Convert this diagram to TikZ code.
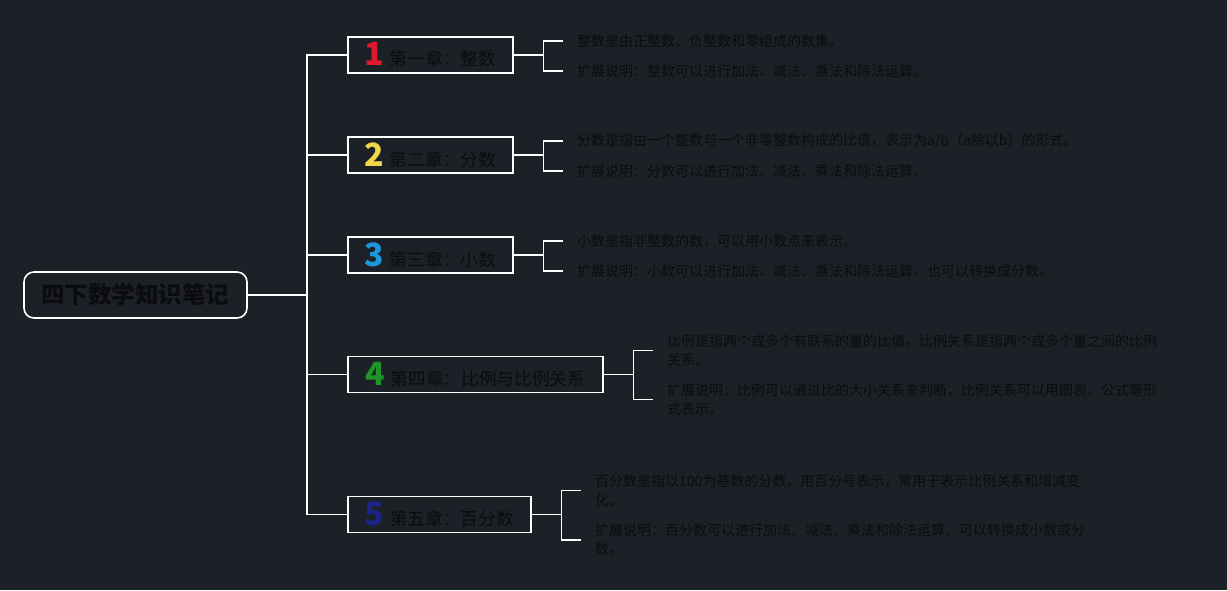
\documentclass[tikz,border=0pt]{standalone}
\usepackage{fontspec}
\setmainfont{Noto Sans CJK SC}
\usepackage{tikz}
\usetikzlibrary{positioning}
\definecolor{bgdark}{RGB}{28,33,40}
\definecolor{inkdark}{RGB}{12,12,14}
\definecolor{numred}{RGB}{226,24,44}
\definecolor{numyellow}{RGB}{240,214,72}
\definecolor{numblue}{RGB}{28,150,220}
\definecolor{numgreen}{RGB}{30,150,40}
\definecolor{numnavy}{RGB}{28,36,140}
\newcommand\chapno[2]{{\color{#1}\fontsize{32}{32}\selectfont\bfseries #2}\hspace{6pt}}

\begin{document}
\begin{tikzpicture}[x=1pt,y=-1pt,line cap=rect,
  link/.style={draw=white,line width=1.6pt},
  rootbox/.style={draw=white,line width=1.6pt,rounded corners=10pt,minimum width=223pt,minimum height=46pt,text=inkdark,font=\fontsize{23.5}{28}\selectfont\bfseries},
  chapbox/.style={draw=white,line width=1.6pt,anchor=west,minimum height=36pt,inner xsep=0pt,inner ysep=1pt,text=inkdark,font=\fontsize{17.7}{21}\selectfont},
  leaf/.style={anchor=west,align=left,inner xsep=0pt,outer xsep=15pt,inner ysep=0pt,text=inkdark,font=\fontsize{14}{19}\selectfont}]
\fill[bgdark] (0,0) rectangle (1227,590);
\node[rootbox] (root) at (135.5,295) {四下数学知识笔记};
\coordinate (tr) at (307,295);
\node[chapbox,minimum width=165pt] (c1) at (347,55) {\chapno{numred}{1}第一章：整数};
\node[chapbox,minimum width=165pt] (c2) at (347,155) {\chapno{numyellow}{2}第二章：分数};
\node[chapbox,minimum width=165pt] (c3) at (347,255) {\chapno{numblue}{3}第三章：小数};
\node[chapbox,minimum width=255pt] (c4) at (347,374.5) {\chapno{numgreen}{4}第四章：比例与比例关系};
\node[chapbox,minimum width=183pt] (c5) at (347,514.5) {\chapno{numnavy}{5}第五章：百分数};
\node[leaf] (a1) at (562,41) {整数是由正整数、负整数和零组成的数集。};
\node[leaf] (b1) at (562,71) {扩展说明：整数可以进行加法、减法、乘法和除法运算。};
\node[leaf] (a2) at (562,141) {分数是指由一个整数与一个非零整数构成的比值，表示为a/b（a除以b）的形式。};
\node[leaf] (b2) at (562,171) {扩展说明：分数可以进行加法、减法、乘法和除法运算。};
\node[leaf] (a3) at (562,241) {小数是指非整数的数，可以用小数点来表示。};
\node[leaf] (b3) at (562,271) {扩展说明：小数可以进行加法、减法、乘法和除法运算，也可以转换成分数。};
\node[leaf] (a4) at (652,350.5) {比例是指两个或多个有联系的量的比值。比例关系是指两个或多个量之间的比例\\关系。};
\node[leaf] (b4) at (652,399.5) {扩展说明：比例可以通过比的大小关系来判断，比例关系可以用图表、公式等形\\式表示。};
\node[leaf] (a5) at (580,490.5) {百分数是指以100为基数的分数，用百分号表示，常用于表示比例关系和增减变\\化。};
\node[leaf] (b5) at (580,540) {扩展说明：百分数可以进行加法、减法、乘法和除法运算，可以转换成小数或分\\数。};
\draw[link] (root.east) -- (tr);
\draw[link] (tr |- c1.west) -- (tr |- c5.west);
\foreach \i in {1,...,5}{
  \draw[link] (tr |- c\i.west) -- (c\i.west);
  \draw[link] (c\i.east) -- ++(30,0) coordinate (k\i);
  \draw[link] (a\i.west) -| (k\i) |- (b\i.west);
}
\end{tikzpicture}
\end{document}
